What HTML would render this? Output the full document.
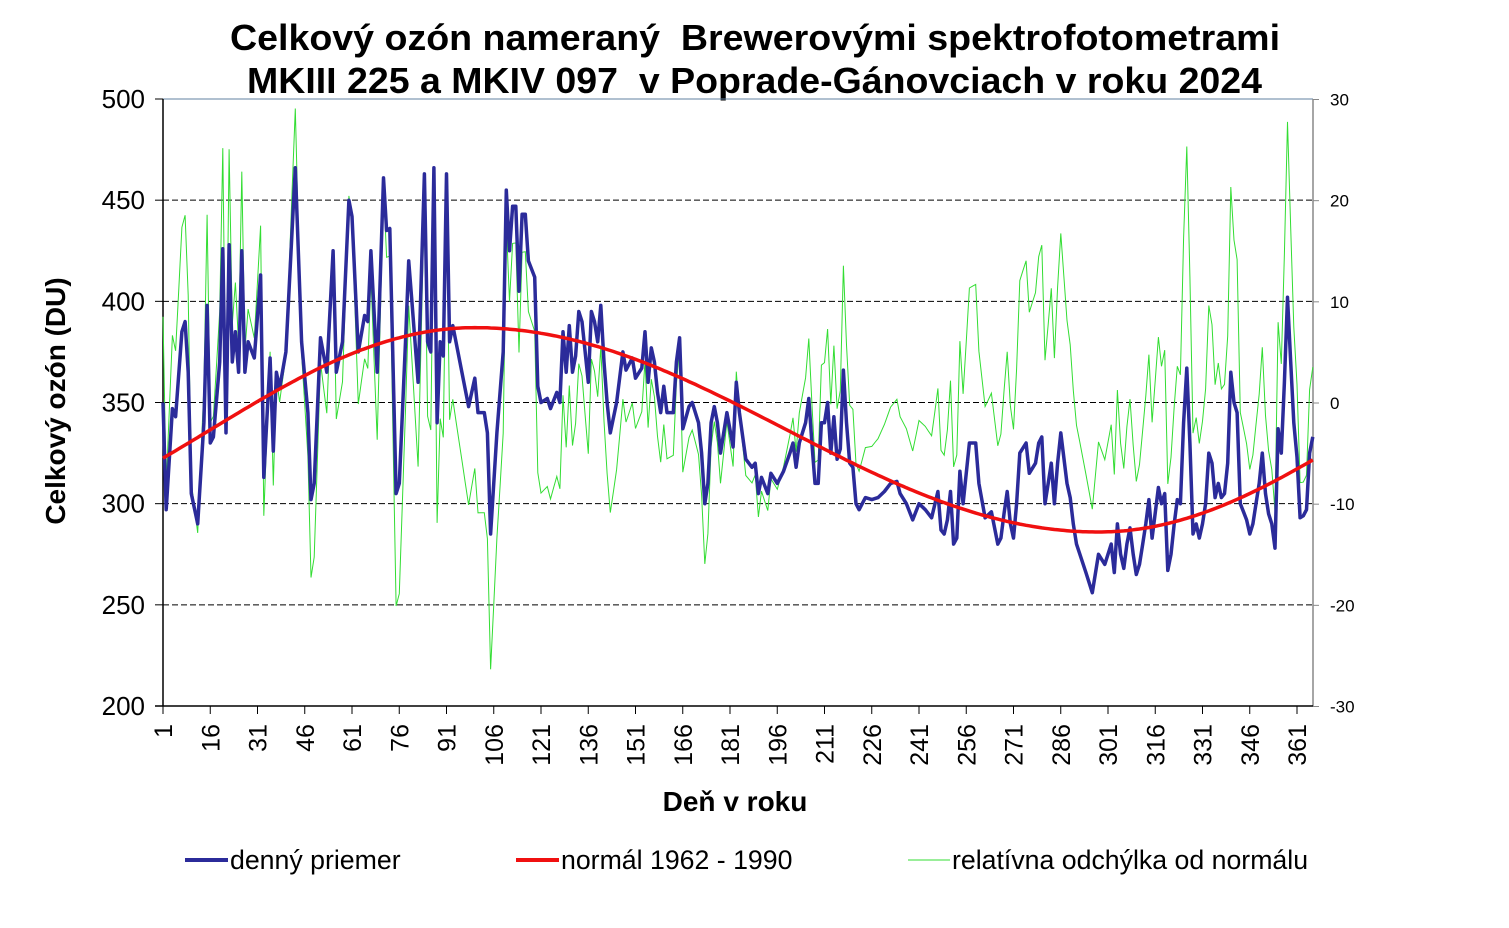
<!DOCTYPE html>
<html><head><meta charset="utf-8"><style>
body{margin:0;background:#fff;}
svg text{font-family:"Liberation Sans",Arial,sans-serif;white-space:pre;}
</style></head><body>
<svg id="s" width="1509" height="923" xmlns="http://www.w3.org/2000/svg">
<text x="230" y="50" font-size="36" font-weight="bold" textLength="1050" lengthAdjust="spacingAndGlyphs">Celkový ozón nameraný  Brewerovými spektrofotometrami</text>
<text x="247" y="93" font-size="36" font-weight="bold" textLength="1015" lengthAdjust="spacingAndGlyphs">MKIII 225 a MKIV 097  v Poprade-Gánovciach v roku 2024</text>
<text transform="translate(65,401) rotate(-90)" text-anchor="middle" font-size="28" font-weight="bold">Celkový ozón (DU)</text>
<text x="735" y="811" text-anchor="middle" font-size="28" font-weight="bold">Deň v roku</text>
<g id="g"></g>
<line x1="185" y1="860" x2="228" y2="860" stroke="#2b2b9a" stroke-width="4"/>
<text x="230" y="869" font-size="26.7">denný priemer</text>
<line x1="516" y1="860" x2="559" y2="860" stroke="#f01010" stroke-width="4"/>
<text x="561" y="869" font-size="26.7">normál 1962 - 1990</text>
<line x1="908" y1="860" x2="950" y2="860" stroke="#33dd33" stroke-width="1"/>
<text x="952" y="869" font-size="26.7">relatívna odchýlka od normálu</text>
</svg>
<script>
var NS="http://www.w3.org/2000/svg",g=document.getElementById('g');
function el(t,a,txt){var e=document.createElementNS(NS,t);for(var k in a)e.setAttribute(k,a[k]);if(txt!=null)e.textContent=txt;g.appendChild(e);return e;}
var X0=163,XD=3.15,Y=function(v){return 706-(v-200)*2.0233;},YR=function(v){return 403-v*10.1167;};
function X(d){return X0+(d-1)*XD;}
var XR=1313;
[250,300,350,400,450].forEach(function(v){el('line',{x1:X0,x2:XR,y1:Y(v),y2:Y(v),stroke:'#000','stroke-dasharray':'6,3','stroke-width':1});});
el('line',{x1:X0,x2:XR,y1:99,y2:99,stroke:'#6080a0','stroke-width':1});
el('line',{x1:XR,x2:XR,y1:99,y2:706,stroke:'#888','stroke-width':1.5});
el('line',{x1:X0,x2:X0,y1:99,y2:706,stroke:'#000','stroke-width':1.5});
el('line',{x1:155,x2:XR,y1:706,y2:706,stroke:'#000','stroke-width':1.5});
for(var v=200;v<=500;v+=50){el('line',{x1:155,x2:X0,y1:Y(v),y2:Y(v),stroke:'#000'});el('text',{x:145,y:Y(v)+9,'text-anchor':'end','font-size':26},v);}
for(var r=-30;r<=30;r+=10){el('line',{x1:XR,x2:XR+6,y1:YR(r),y2:YR(r),stroke:'#888'});el('text',{x:1330,y:YR(r)+6,'font-size':17},r);}
for(var d=1;d<=361;d+=15){var x=X(d);el('line',{x1:x,x2:x,y1:706,y2:714,stroke:'#000'});el('text',{transform:'translate('+(x+9)+',724) rotate(-90)','text-anchor':'end','font-size':25},d);}
var A=[1,350,2,297,4,347,5,343,7,385,8,390,9,365,10,305,12,290,14,340,15,398,16,330,17,333,19,370,20,426,21,335,22,428,23,370,24,385,25,365,26,425,27,365,28,380,30,372,32,413,33,313,35,372,36,326,37,365,38,357,40,375,43,466,45,380,47,345,48,302,49,310,51,382,53,365,55,425,56,365,58,380,60,450,61,442,63,375,65,393,66,390,67,425,69,365,71,461,72,435,73,436,75,305,76,310,78,380,79,420,80,400,82,360,84,463,85,380,86,375,87,466,88,340,89,380,90,373,91,463,92,380,93,388];
var B=[95,348,97,362,98,345,100,345,101,335,102,285,104,335,106,375,107,455,108,425,109,447,110,447,111,405,112,443,113,443,114,420,116,412,117,358,118,350,120,352,121,347,123,355,124,350,125,385,126,365,127,388,128,365,129,373,130,395,131,390,133,360,134,395,135,390,136,380,137,398,138,370,139,350,140,335,142,350,144,375,145,366,147,372,148,362,150,367,151,385,152,360,153,377,154,370,155,355,156,345,157,358,158,345,160,345,161,370,162,382,163,337,165,348,166,350];
for(var i=0;i<B.length;i+=2)A.push(B[i]+3,B[i+1]);
var C=[171,340,172,325,173,300,174,310,175,340,176,348,177,340,178,325,180,345,182,328,183,360,184,345,186,322,188,318,189,320,190,305,191,313,193,305,194,315,196,310,198,316,200,325,201,330,202,318,203,330,205,340,206,352,207,330,208,310,209,310,210,340,211,340,212,350,213,325,214,343,215,322,216,327,217,366,218,340,219,320,220,318,221,300,222,297,224,303,226,302,228,303,230,306,232,310,234,311,235,305,237,300,239,292,241,300,243,297,245,293,247,306,248,287,249,285,250,292,251,306,252,280,253,283,254,316,255,300,257,330,259,330,260,310,262,293,264,296,266,280,267,283,268,295,269,306,270,290,271,283,272,300,273,325,275,330,276,315,278,320,279,330,280,333,281,300,282,310,283,320,284,300,285,320,286,335,288,310,289,303,290,290,291,280,294,266,296,256,298,275,300,270,302,280,303,266,304,290,305,275,306,268,307,280,308,288,309,275,310,265,311,270,312,280,313,290,314,302,315,283,317,308,318,300,319,305,320,267,321,275,322,290,323,302,324,300,325,340,326,367,327,330,328,285,329,290,330,283,331,290,332,300,333,325,334,320,335,303,336,310,337,303,338,305,339,320,340,365,341,350,342,345,343,300,344,296,345,292,346,285,347,290,348,300,349,310,350,325,351,305,352,295,353,290,354,278,355,337,356,325,357,360,358,402,359,370,360,340,361,323,362,293,363,294,364,297,365,325,366,333];
A=A.concat(C);
var pts=[];for(var i=0;i<A.length;i+=2)pts.push([A[i],A[i+1]]);
function val(d){for(var i=0;i<pts.length-1;i++){if(d>=pts[i][0]&&d<=pts[i+1][0]){var t=(d-pts[i][0])/(pts[i+1][0]-pts[i][0]);return pts[i][1]+t*(pts[i+1][1]-pts[i][1]);}}return pts[pts.length-1][1];}
function norm(d){if(d>=100&&d<=298)return 336.5+50.5*Math.cos(Math.PI*(d-100)/198);var e=d<100?d+366:d;return 336.5-50.5*Math.cos(Math.PI*(e-298)/168);}
var gp=[],np=[],bp=[];
for(var d=1;d<=366;d++){var b=val(d),n=norm(d);gp.push(X(d).toFixed(1)+','+YR((b-n)/n*100).toFixed(1));np.push(X(d).toFixed(1)+','+Y(n).toFixed(1));}
pts.forEach(function(p){bp.push(X(p[0]).toFixed(1)+','+Y(p[1]).toFixed(1));});
el('polyline',{points:gp.join(' '),fill:'none',stroke:'#33dd33','stroke-width':1});
el('polyline',{points:bp.join(' '),fill:'none',stroke:'#2b2b9a','stroke-width':3.5,'stroke-linejoin':'round'});
el('polyline',{points:np.join(' '),fill:'none',stroke:'#f01010','stroke-width':3.5});
</script>
</body></html>
